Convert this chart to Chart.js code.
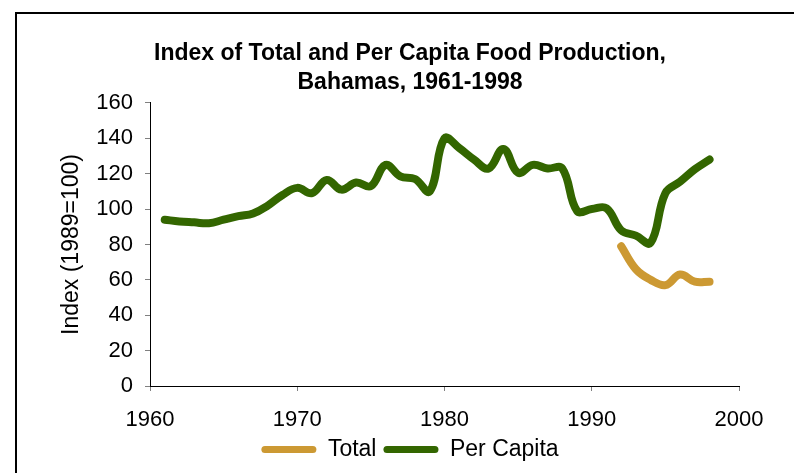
<!DOCTYPE html>
<html>
<head>
<meta charset="utf-8">
<script src="https://cdn.jsdelivr.net/npm/chart.js@4/dist/chart.umd.min.js"></script>
<style>
  html, body { margin: 0; padding: 0; background: #fff; overflow: hidden; width: 794px; height: 473px; }
  #frame {
    position: absolute; left: 15px; top: 12px;
    width: 796px; height: 464px;
    border-top: 2px solid #000; border-left: 2px solid #000;
  }
  #chartBox { position: relative; width: 796px; height: 457px; }
</style>
</head>
<body>
<div id="frame"><div id="chartBox"><canvas id="foodChart"></canvas></div></div>
<script>
// years on the x axis
const years = [1961, 1962, 1963, 1964, 1965, 1966, 1967, 1968, 1969, 1970,
               1971, 1972, 1973, 1974, 1975, 1976, 1977, 1978, 1979, 1980,
               1981, 1982, 1983, 1984, 1985, 1986, 1987, 1988, 1989, 1990,
               1991, 1992, 1993, 1994, 1995, 1996, 1997, 1998];

// total food production index (only reported from 1992)
const totalIndex = [null, null, null, null, null, null, null, null, null, null,
                    null, null, null, null, null, null, null, null, null, null,
                    null, null, null, null, null, null, null, null, null, null,
                    null, 79, 66, 60, 57, 63, 59, 59];

// per capita food production index
const perCapitaIndex = [94, 93, 92.5, 92, 94, 96, 97.5, 102, 108, 112,
                        109, 116.5, 111, 115, 113, 125, 118.5, 117, 110, 140,
                        134.5, 128, 123, 134, 120.5, 125, 123, 123, 99, 100,
                        100.5, 88, 85, 81, 109, 115.5, 122.5, 128];

const yTicks = [0, 20, 40, 60, 80, 100, 120, 140, 160];
const xTicks = [1960, 1970, 1980, 1990, 2000];

const font = "'Liberation Sans', Arial, sans-serif";
Chart.defaults.font.family = font;
Chart.defaults.color = '#000';

const toPoints = vals => years.map((yr, i) => ({ x: yr, y: vals[i] }));

new Chart(document.getElementById('foodChart').getContext('2d'), {
    type: 'line',
    data: {
        datasets: [{
            label: 'Total',
            data: toPoints(totalIndex),
            borderColor: '#CC9933',
            backgroundColor: '#CC9933',
            borderWidth: 8,
            tension: 0.4,
            pointRadius: 0,
            borderCapStyle: 'round',
            borderJoinStyle: 'round',
            spanGaps: false
        }, {
            label: 'Per Capita',
            data: toPoints(perCapitaIndex),
            borderColor: '#336600',
            backgroundColor: '#336600',
            borderWidth: 8,
            tension: 0.4,
            pointRadius: 0,
            borderCapStyle: 'round',
            borderJoinStyle: 'round'
        }]
    },
    options: {
        responsive: true,
        maintainAspectRatio: false,
        animation: false,
        layout: { padding: { left: 0, right: 10, top: 0, bottom: 0 } },
        plugins: {
            title: {
                display: true,
                text: ['Index of Total and Per Capita Food Production,', 'Bahamas, 1961-1998'],
                font: { size: 23, weight: 'bold', lineHeight: 1.26 },
                color: '#000',
                padding: { top: 25, bottom: 6 }
            },
            legend: {
                position: 'bottom',
                labels: {
                    boxWidth: 55,
                    boxHeight: 7,
                    useBorderRadius: true,
                    borderRadius: 3.5,
                    padding: 7,
                    font: { size: 23 },
                    color: '#000',
                    generateLabels(chart) {
                        return chart.data.datasets.map((ds, i) => ({
                            text: ds.label,
                            fillStyle: ds.borderColor,
                            strokeStyle: ds.borderColor,
                            lineWidth: 0,
                            borderRadius: 3.5,
                            hidden: false,
                            datasetIndex: i,
                            fontColor: '#000'
                        }));
                    }
                }
            },
            tooltip: { enabled: false }
        },
        scales: {
            x: {
                type: 'linear',
                min: 1960,
                max: 2000,
                afterBuildTicks(scale) { scale.ticks = xTicks.map(v => ({ value: v })); },
                afterFit(scale) { scale.height = 45; },
                ticks: { font: { size: 22, lineHeight: 1 }, color: '#000', padding: 18, callback: v => String(v) },
                grid: { drawOnChartArea: false, drawTicks: true, tickLength: 5, color: '#808080' },
                border: { color: '#000', width: 1 }
            },
            y: {
                min: 0,
                max: 160,
                afterBuildTicks(scale) { scale.ticks = yTicks.map(v => ({ value: v })); },
                afterFit(scale) { scale.width = 133; },
                ticks: { font: { size: 22 }, color: '#000', padding: 12 },
                grid: { drawOnChartArea: false, drawTicks: true, tickLength: 5, color: '#808080' },
                border: { color: '#000', width: 1 },
                title: {
                    display: true,
                    text: 'Index (1989=100)',
                    font: { size: 23 },
                    color: '#000',
                    padding: { top: 41, bottom: 0 }
                }
            },
            // empty spacer on the right so the title and legend sit over the whole frame
            spacer: {
                type: 'linear',
                position: 'right',
                afterFit(scale) { scale.width = 64; },
                ticks: { display: false },
                grid: { display: false },
                border: { display: false }
            }
        }
    }
});
</script>
</body>
</html>
